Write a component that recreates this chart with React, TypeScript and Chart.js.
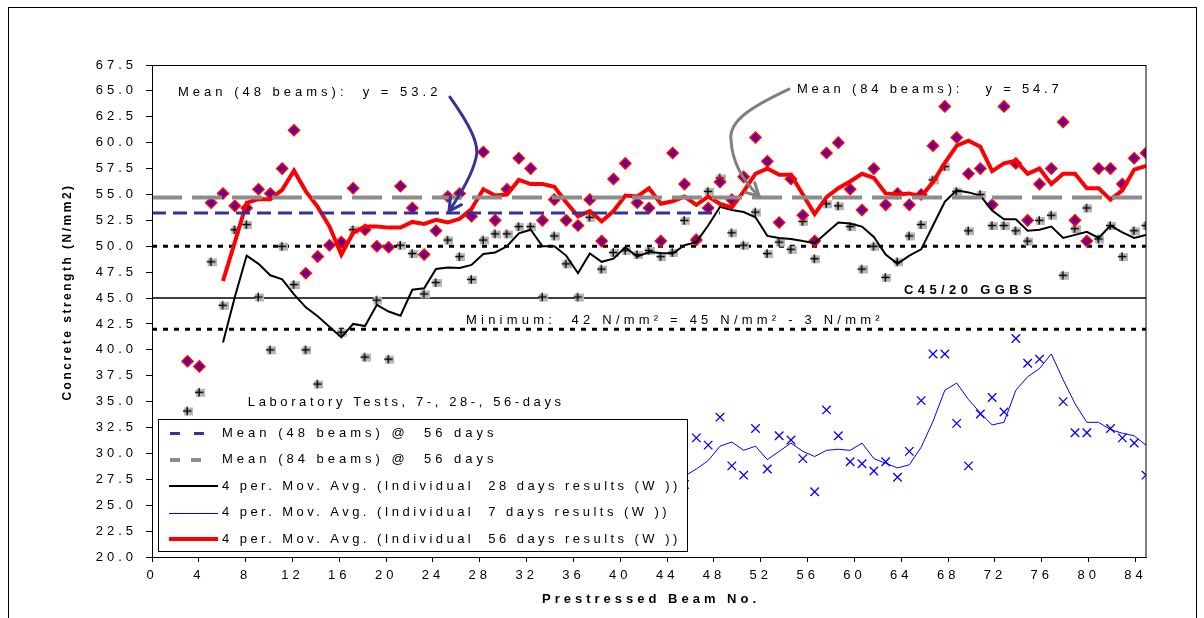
import React, { useEffect, useRef } from "react";
import { Chart, registerables } from "chart.js";

Chart.register(...registerables);

// ---------------- data ----------------
const beams = [
  3, 4, 5, 6, 7, 8, 9, 10, 11, 12,
  13, 14, 15, 16, 17, 18, 19, 20, 21, 22,
  23, 24, 25, 26, 27, 28, 29, 30, 31, 32,
  33, 34, 35, 36, 37, 38, 39, 40, 41, 42,
  43, 44, 45, 46, 47, 48, 49, 50, 51, 52,
  53, 54, 55, 56, 57, 58, 59, 60, 61, 62,
  63, 64, 65, 66, 67, 68, 69, 70, 71, 72,
  73, 74, 75, 76, 77, 78, 79, 80, 81, 82,
  83, 84,
];

// individual 56-day results
const day56 = [
  38.9, 38.4, 54.2, 55.1, 53.9, 53.7, 55.5, 55.1, 57.5, 61.2,
  47.4, 49.0, 50.1, 50.4, 55.6, 51.6, 50.0, 49.9, 55.8, 53.7,
  49.2, 51.5, 54.8, 55.1, 52.9, 59.1, 52.5, 55.5, 58.5, 57.5,
  52.5, 54.5, 52.5, 52.0, 54.5, 50.5, 56.5, 58.0, 54.2, 53.7,
  50.5, 59.0, 56.0, 50.6, 53.7, 56.2, 54.5, 56.7, 60.5, 58.2,
  52.3, 56.5, 53.0, 50.5, 59.0, 60.0, 55.5, 53.5, 57.5, 54.0,
  55.1, 54.0, 55.0, 59.7, 63.5, 60.5, 57.0, 57.5, 54.0, 63.5,
  58.0, 52.5, 56.0, 57.5, 62.0, 52.5, 50.5, 57.5, 57.5, 56.0,
  58.5, 59.0,
];

// individual 28-day results
const day28 = [
  34.1, 35.9, 48.5, 44.3, 51.6, 52.1, 45.1, 40.0, 50.0, 46.3,
  40.0, 36.7, null, 41.7, 51.6, 39.3, 44.8, 39.1, 50.1, 49.3,
  45.4, 46.5, 50.6, 49.0, 46.8, 50.6, 51.2, 51.2, 51.9, 51.9,
  45.1, 51.0, 48.3, 45.1, 52.8, 47.8, 49.4, 49.6, 49.2, 49.6,
  49.0, 49.4, 52.5, 50.8, 55.3, 56.6, 51.3, 50.1, 53.3, 49.3,
  50.4, 49.7, 52.4, 48.8, 54.1, 53.9, 51.9, 47.8, 50.0, 47.0,
  48.5, 51.0, 52.1, 56.4, 57.7, 55.3, 51.5, 55.0, 52.0, 52.0,
  51.5, 50.5, 52.5, 53.0, 47.2, 51.7, 53.7, 50.7, 52.0, 49.0,
  51.5, 52.0,
];

// 4 per. moving average, 56 days
const ma56 = [
  null, null, null, 46.65, 50.4, 54.2, 54.55, 54.55, 55.45, 57.3,
  55.3, 53.8, 51.9, 49.2, 51.3, 51.9, 51.9, 51.8, 51.8, 52.35,
  52.15, 52.55, 52.3, 52.65, 53.6, 55.5, 54.9, 55.0, 56.4, 56.0,
  56.0, 55.75, 54.25, 52.9, 53.4, 52.4, 53.4, 54.9, 54.8, 55.6,
  54.1, 54.35, 54.8, 54.0, 54.8, 54.1, 53.75, 55.3, 57.0, 57.5,
  56.9, 56.9, 55.0, 53.1, 54.75, 55.6, 56.25, 57.0, 56.6, 55.1,
  55.0, 55.1, 54.8, 56.2, 58.05, 59.7, 60.2, 59.6, 57.25, 58.0,
  58.25, 57.0, 57.5, 56.0, 57.0, 57.0, 55.6, 55.6, 54.5, 55.4,
  57.4, 57.75,
];

// 4 per. moving average, 28 days
const ma28 = [
  null, null, null, 40.7, 45.1, 49.1, 48.3, 47.2, 46.8, 45.35,
  44.1, 43.25, null, 41.2, 42.5, 42.3, 44.35, 43.7, 43.3, 45.8,
  45.95, 47.8, 47.95, 47.9, 48.2, 49.25, 49.4, 50.0, 51.25, 51.6,
  50.0, 50.0, 49.1, 47.4, 49.3, 48.5, 48.8, 49.9, 49.0, 49.45,
  49.35, 49.3, 50.1, 50.4, 52.0, 53.8, 53.5, 53.3, 52.8, 51.0,
  50.8, 50.7, 50.5, 50.3, 51.3, 52.3, 52.2, 51.9, 50.9, 49.2,
  48.3, 49.1, 49.7, 52.0, 54.3, 55.4, 55.2, 54.9, 53.45, 52.6,
  52.6, 51.5, 51.6, 51.9, 50.8, 51.1, 51.4, 50.8, 52.0, 51.35,
  50.8, 51.1,
];

// 7-day results (visible part, beams 45..84)
const beams7 = [
  45, 46, 47, 48, 49, 50, 51, 52, 53, 54,
  55, 56, 57, 58, 59, 60, 61, 62, 63, 64,
  65, 66, 67, 68, 69, 70, 71, 72, 73, 74,
  75, 76, 77, 78, 79, 80, 81, 82, 83, 84,
];
const day7 = [
  27.0, 31.5, 30.8, 33.5, 28.8, 27.9, 32.4, 28.5, 31.7, 31.3,
  29.5, 26.3, 34.2, 31.7, 29.2, 29.0, 28.3, 29.2, 27.7, 30.2,
  35.1, 39.6, 39.6, 32.9, 28.8, 33.8, 35.4, 34.0, 41.1, 38.7,
  39.1, null, 35.0, 32.0, 32.0, null, 32.4, 31.5, 31.0, 27.9,
];
const ma7 = [
  27.8, 28.5, 29.3, 30.7, 31.1, 30.3, 30.7, 29.4, 30.2, 31.0,
  30.2, 29.7, 30.3, 30.4, 30.3, 31.0, 29.5, 29.05, 28.6, 28.9,
  30.6, 33.1, 36.1, 36.8, 35.2, 33.9, 32.75, 33.0, 36.1, 37.4,
  38.2, 39.6, 37.1, 34.8, 33.0, 33.0, 32.3, 31.95, 31.7, 30.8,
];

const xRange = [0, 84];
const xTickValues = [0, 4, 8, 12, 16, 20, 24, 28, 32, 36, 40, 44, 48, 52, 56, 60, 64, 68, 72, 76, 80, 84];
const xLabelAxisMax = 84.9; // the printed labels sit slightly compressed versus the data
const yRange = [20, 67.5];
const yStep = 2.5;

const mean48 = 53.2;
const mean48Span = [0, 48];
const mean84 = 54.7;
const mean84Span = [0, 84];
const upperDotted = 50;
const gradeLine = 45;
const minimumLine = 42;

const legendLabels = [
  "Mean (48 beams) @  56 days",
  "Mean (84 beams) @  56 days",
  "4 per. Mov. Avg. (Individual  28 days results (W ))",
  "4 per. Mov. Avg. (Individual  7 days results (W ))",
  "4 per. Mov. Avg. (Individual  56 days results (W ))",
];

const yTitle = "Concrete strength (N/mm2)";
const xTitle = "Prestressed Beam No.";

// annotation texts, anchored in data units (left / middle)
const notes = [
  { text: "Mean (48 beams):  y = 53.2", x: 2.2, y: 64.83, bold: false, sp: 4 },
  { text: "Mean (84 beams):   y = 54.7", x: 54.5, y: 65.15, bold: false, sp: 3.8 },
  { text: "C45/20 GGBS", x: 63.55, y: 45.78, bold: true, sp: 4.4 },
  { text: "Minimum:  42 N/mm\u00B2 = 45 N/mm\u00B2 - 3 N/mm\u00B2", x: 26.54, y: 42.88, bold: false, sp: 4.2 },
  { text: "Laboratory Tests, 7-, 28-, 56-days", x: 8.1, y: 34.94, bold: false, sp: 3.6 },
];

// arrows in data units: start + cubic segments [c1x,c1y,c2x,c2y,x,y]
const blueArrow = {
  color: "#333399",
  start: [25.18, 64.41],
  segs: [
    [26.87, 61.71, 27.72, 59.78, 27.38, 58.52],
    [27.04, 56.88, 26.03, 54.95, 25.1, 53.4],
  ],
};
const grayArrow = {
  color: "#808080",
  start: [53.83, 65.18],
  segs: [
    [50.96, 63.64, 48.68, 62.19, 48.93, 60.26],
    [49.02, 58.33, 49.86, 56.4, 51.3, 54.85],
  ],
};

const FONT = "'Liberation Sans', Arial, Helvetica, sans-serif";

function pts(xs: number[], ys: (number | null)[]) {
  return xs.map((x, i) => ({ x, y: ys[i] }));
}

function makePlusMarker() {
  const c = document.createElement("canvas");
  c.width = 11;
  c.height = 11;
  const g = c.getContext("2d")!;
  g.fillStyle = "#b8b8b8";
  g.fillRect(2, 2, 9, 8);
  g.strokeStyle = "#000";
  g.lineWidth = 1.4;
  g.beginPath();
  g.moveTo(1, 5.5);
  g.lineTo(9.5, 5.5);
  g.moveTo(5.2, 1.2);
  g.lineTo(5.2, 9.8);
  g.stroke();
  return c;
}

function drawText(ctx: CanvasRenderingContext2D, s: string, x: number, y: number, font: string, sp: number, align: CanvasTextAlign = "left") {
  ctx.save();
  ctx.font = font;
  (ctx as any).letterSpacing = sp + "px";
  ctx.fillStyle = "#000";
  ctx.textAlign = align;
  ctx.textBaseline = "middle";
  ctx.fillText(s, x, y);
  ctx.restore();
}

function drawArrow(chart: any, arrow: any) {
  const ctx: CanvasRenderingContext2D = chart.ctx;
  const xs = chart.scales.x;
  const ys = chart.scales.y;
  const P = (x: number, y: number) => [xs.getPixelForValue(x), ys.getPixelForValue(y)];
  ctx.save();
  ctx.strokeStyle = arrow.color;
  ctx.lineWidth = 3;
  ctx.lineCap = "round";
  ctx.lineJoin = "round";
  ctx.beginPath();
  const s = P(arrow.start[0], arrow.start[1]);
  ctx.moveTo(s[0], s[1]);
  let lastC = s;
  let tip = s;
  for (const seg of arrow.segs) {
    const c1 = P(seg[0], seg[1]);
    const c2 = P(seg[2], seg[3]);
    const e = P(seg[4], seg[5]);
    ctx.bezierCurveTo(c1[0], c1[1], c2[0], c2[1], e[0], e[1]);
    lastC = c2;
    tip = e;
  }
  ctx.stroke();
  const ang = Math.atan2(tip[1] - lastC[1], tip[0] - lastC[0]);
  const L = 14;
  ctx.beginPath();
  ctx.moveTo(tip[0] + Math.cos(ang + Math.PI - 0.5) * L, tip[1] + Math.sin(ang + Math.PI - 0.5) * L);
  ctx.lineTo(tip[0], tip[1]);
  ctx.lineTo(tip[0] + Math.cos(ang + Math.PI + 0.5) * L, tip[1] + Math.sin(ang + Math.PI + 0.5) * L);
  ctx.stroke();
  ctx.restore();
}

const decorPlugin = {
  id: "decor",
  beforeDraw(chart: any) {
    const ctx: CanvasRenderingContext2D = chart.ctx;
    ctx.save();
    ctx.fillStyle = "#fff";
    ctx.fillRect(0, 0, chart.width, chart.height);
    ctx.strokeStyle = "#000";
    ctx.lineWidth = 1;
    ctx.strokeRect(8.5, 7.5, 1188, 700);
    ctx.restore();
    (ctx as any).letterSpacing = "4px";
  },
  beforeDatasetsDraw(chart: any) {
    (chart.ctx as any).letterSpacing = "0px";
  },
  afterDatasetsDraw(chart: any) {
    const ctx: CanvasRenderingContext2D = chart.ctx;
    const { left, top, right, bottom } = chart.chartArea;
    const xs = chart.scales.x;
    const ys = chart.scales.y;

    // plot-area frame
    ctx.save();
    ctx.strokeStyle = "#000";
    ctx.lineWidth = 1;
    ctx.strokeRect(Math.round(left) + 0.5, Math.round(top) + 0.5, Math.round(right - left) - 0.5, Math.round(bottom - top));
    ctx.restore();

    // annotation texts
    for (const n of notes) {
      drawText(ctx, n.text, xs.getPixelForValue(n.x), ys.getPixelForValue(n.y), (n.bold ? "bold " : "") + "13px " + FONT, n.sp);
    }

    drawArrow(chart, blueArrow);
    drawArrow(chart, grayArrow);

    // axis titles
    ctx.save();
    ctx.translate(68, 292);
    ctx.rotate(-Math.PI / 2);
    drawText(ctx, yTitle, 0, 0, "bold 12px " + FONT, 2.5, "center");
    ctx.restore();
    drawText(ctx, xTitle, (left + right) / 2 + 2, 599, "bold 13px " + FONT, 4, "center");

    // legend box
    const lx = 158.5, ly = 419.5, lw = 529, lh = 132;
    ctx.save();
    ctx.fillStyle = "#fff";
    ctx.fillRect(lx, ly, lw, lh);
    ctx.strokeStyle = "#000";
    ctx.lineWidth = 1;
    ctx.strokeRect(lx, ly, lw, lh);
    const styles = [
      { color: "#333399", width: 3, dash: [10, 14], x1: 170, x2: 205, sp: 4 },
      { color: "#8c8c8c", width: 4, dash: [10, 11], x1: 170, x2: 206, sp: 4 },
      { color: "#000000", width: 2, dash: [], x1: 169, x2: 218, sp: 3.45 },
      { color: "#0000ff", width: 1, dash: [], x1: 169, x2: 218, sp: 3.45 },
      { color: "#ff0000", width: 4, dash: [], x1: 169, x2: 218, sp: 3.45 },
    ];
    legendLabels.forEach((lab, i) => {
      const cy = 433.3 + i * 26.45;
      const st = styles[i];
      ctx.save();
      ctx.strokeStyle = st.color;
      ctx.lineWidth = st.width;
      ctx.setLineDash(st.dash);
      ctx.beginPath();
      ctx.moveTo(st.x1, Math.round(cy) + (st.width % 2 ? 0.5 : 0));
      ctx.lineTo(st.x2, Math.round(cy) + (st.width % 2 ? 0.5 : 0));
      ctx.stroke();
      ctx.restore();
      drawText(ctx, lab, 222, cy, "13px " + FONT, st.sp);
    });
    ctx.restore();
  },
  afterDraw(chart: any) {
    (chart.ctx as any).letterSpacing = "0px";
  },
};

export default function App() {
  const ref = useRef<HTMLCanvasElement | null>(null);

  useEffect(() => {
    if (!ref.current) return;
    Chart.defaults.font.family = FONT;
    Chart.defaults.font.size = 13;
    Chart.defaults.color = "#000";
    const plus = makePlusMarker();

    const lineBase = { pointRadius: 0, fill: false, tension: 0, showLine: true };

    const chart = new Chart(ref.current, {
      type: "line",
      data: {
        datasets: [
          {
            ...lineBase,
            label: "Mean (48 beams) @ 56 days",
            data: [{ x: mean48Span[0], y: mean48 }, { x: mean48Span[1], y: mean48 }],
            borderColor: "#333399",
            borderWidth: 3,
            borderDash: [14, 7],
            order: 1,
          },
          {
            ...lineBase,
            label: "Mean (84 beams) @ 56 days",
            data: [{ x: mean84Span[0], y: mean84 }, { x: mean84Span[1], y: mean84 }],
            borderColor: "#8c8c8c",
            borderWidth: 4,
            borderDash: [30, 10],
            order: 2,
          },
          {
            ...lineBase,
            label: "4 per. Mov. Avg. (Individual 56 days results (W))",
            data: pts(beams, ma56),
            borderColor: "#ff0000",
            borderWidth: 4,
            spanGaps: true,
            order: 3,
          },
          {
            ...lineBase,
            label: "4 per. Mov. Avg. (Individual 28 days results (W))",
            data: pts(beams, ma28),
            borderColor: "#000000",
            borderWidth: 2,
            spanGaps: true,
            order: 4,
          },
          {
            ...lineBase,
            label: "4 per. Mov. Avg. (Individual 7 days results (W))",
            data: pts(beams7, ma7),
            borderColor: "#0000ff",
            borderWidth: 1,
            spanGaps: true,
            order: 5,
          },
          {
            label: "Individual 56 days results",
            data: pts(beams, day56),
            showLine: false,
            pointStyle: "rectRot",
            pointRadius: 5.5,
            pointBackgroundColor: "#660099",
            pointBorderColor: "#ff0000",
            pointBorderWidth: 1.5,
            order: 6,
          },
          {
            label: "Individual 28 days results",
            data: pts(beams, day28),
            showLine: false,
            pointStyle: plus as any,
            pointRadius: 5,
            order: 7,
          },
          {
            label: "Individual 7 days results",
            data: pts(beams7, day7),
            showLine: false,
            pointStyle: "crossRot",
            pointRadius: 6,
            pointBorderColor: "#0000ff",
            pointBorderWidth: 1.3,
            order: 8,
          },
          {
            ...lineBase,
            label: "50",
            data: [{ x: xRange[0], y: upperDotted }, { x: xRange[1], y: upperDotted }],
            borderColor: "#000",
            borderWidth: 3,
            borderDash: [5, 6],
            order: 9,
          },
          {
            ...lineBase,
            label: "C45/20 GGBS",
            data: [{ x: xRange[0], y: gradeLine }, { x: xRange[1], y: gradeLine }],
            borderColor: "#000",
            borderWidth: 1.5,
            order: 10,
          },
          {
            ...lineBase,
            label: "Minimum",
            data: [{ x: xRange[0], y: minimumLine }, { x: xRange[1], y: minimumLine }],
            borderColor: "#000",
            borderWidth: 3,
            borderDash: [5, 6],
            order: 11,
          },
        ],
      },
      options: {
        animation: false,
        responsive: false,
        devicePixelRatio: 1,
        events: [],
        layout: { padding: { left: 0, top: 65, right: 58, bottom: 0 } },
        plugins: {
          legend: { display: false },
          tooltip: { enabled: false },
          title: { display: false },
        },
        scales: {
          x: {
            type: "linear",
            min: xRange[0],
            max: xRange[1],
            display: false,
          },
          xLabels: {
            type: "linear",
            position: "bottom",
            min: xRange[0],
            max: xLabelAxisMax,
            afterBuildTicks: (s: any) => {
              s.ticks = xTickValues.map((v) => ({ value: v }));
            },
            ticks: { padding: 6, maxRotation: 0, autoSkip: false, color: "#000", font: { size: 13 } },
            grid: { drawOnChartArea: false, tickLength: 5, color: "#000" },
            border: { color: "#000", width: 1 },
            afterFit: (s: any) => {
              s.height = 61;
            },
          },
          y: {
            type: "linear",
            min: yRange[0],
            max: yRange[1],
            ticks: {
              stepSize: yStep,
              padding: 9,
              color: "#000",
              font: { size: 13 },
              callback: (v: any) => Number(v).toFixed(1),
            },
            grid: { drawOnChartArea: false, tickLength: 6, color: "#000" },
            border: { color: "#000", width: 1 },
            afterFit: (s: any) => {
              s.width = 152;
            },
          },
        },
      },
      plugins: [decorPlugin],
    });
    return () => chart.destroy();
  }, []);

  return (
    <div style={{ position: "absolute", left: 0, top: 0, width: 1204, height: 618, background: "#fff" }}>
      <canvas ref={ref} width={1204} height={618} style={{ display: "block" }} />
    </div>
  );
}
